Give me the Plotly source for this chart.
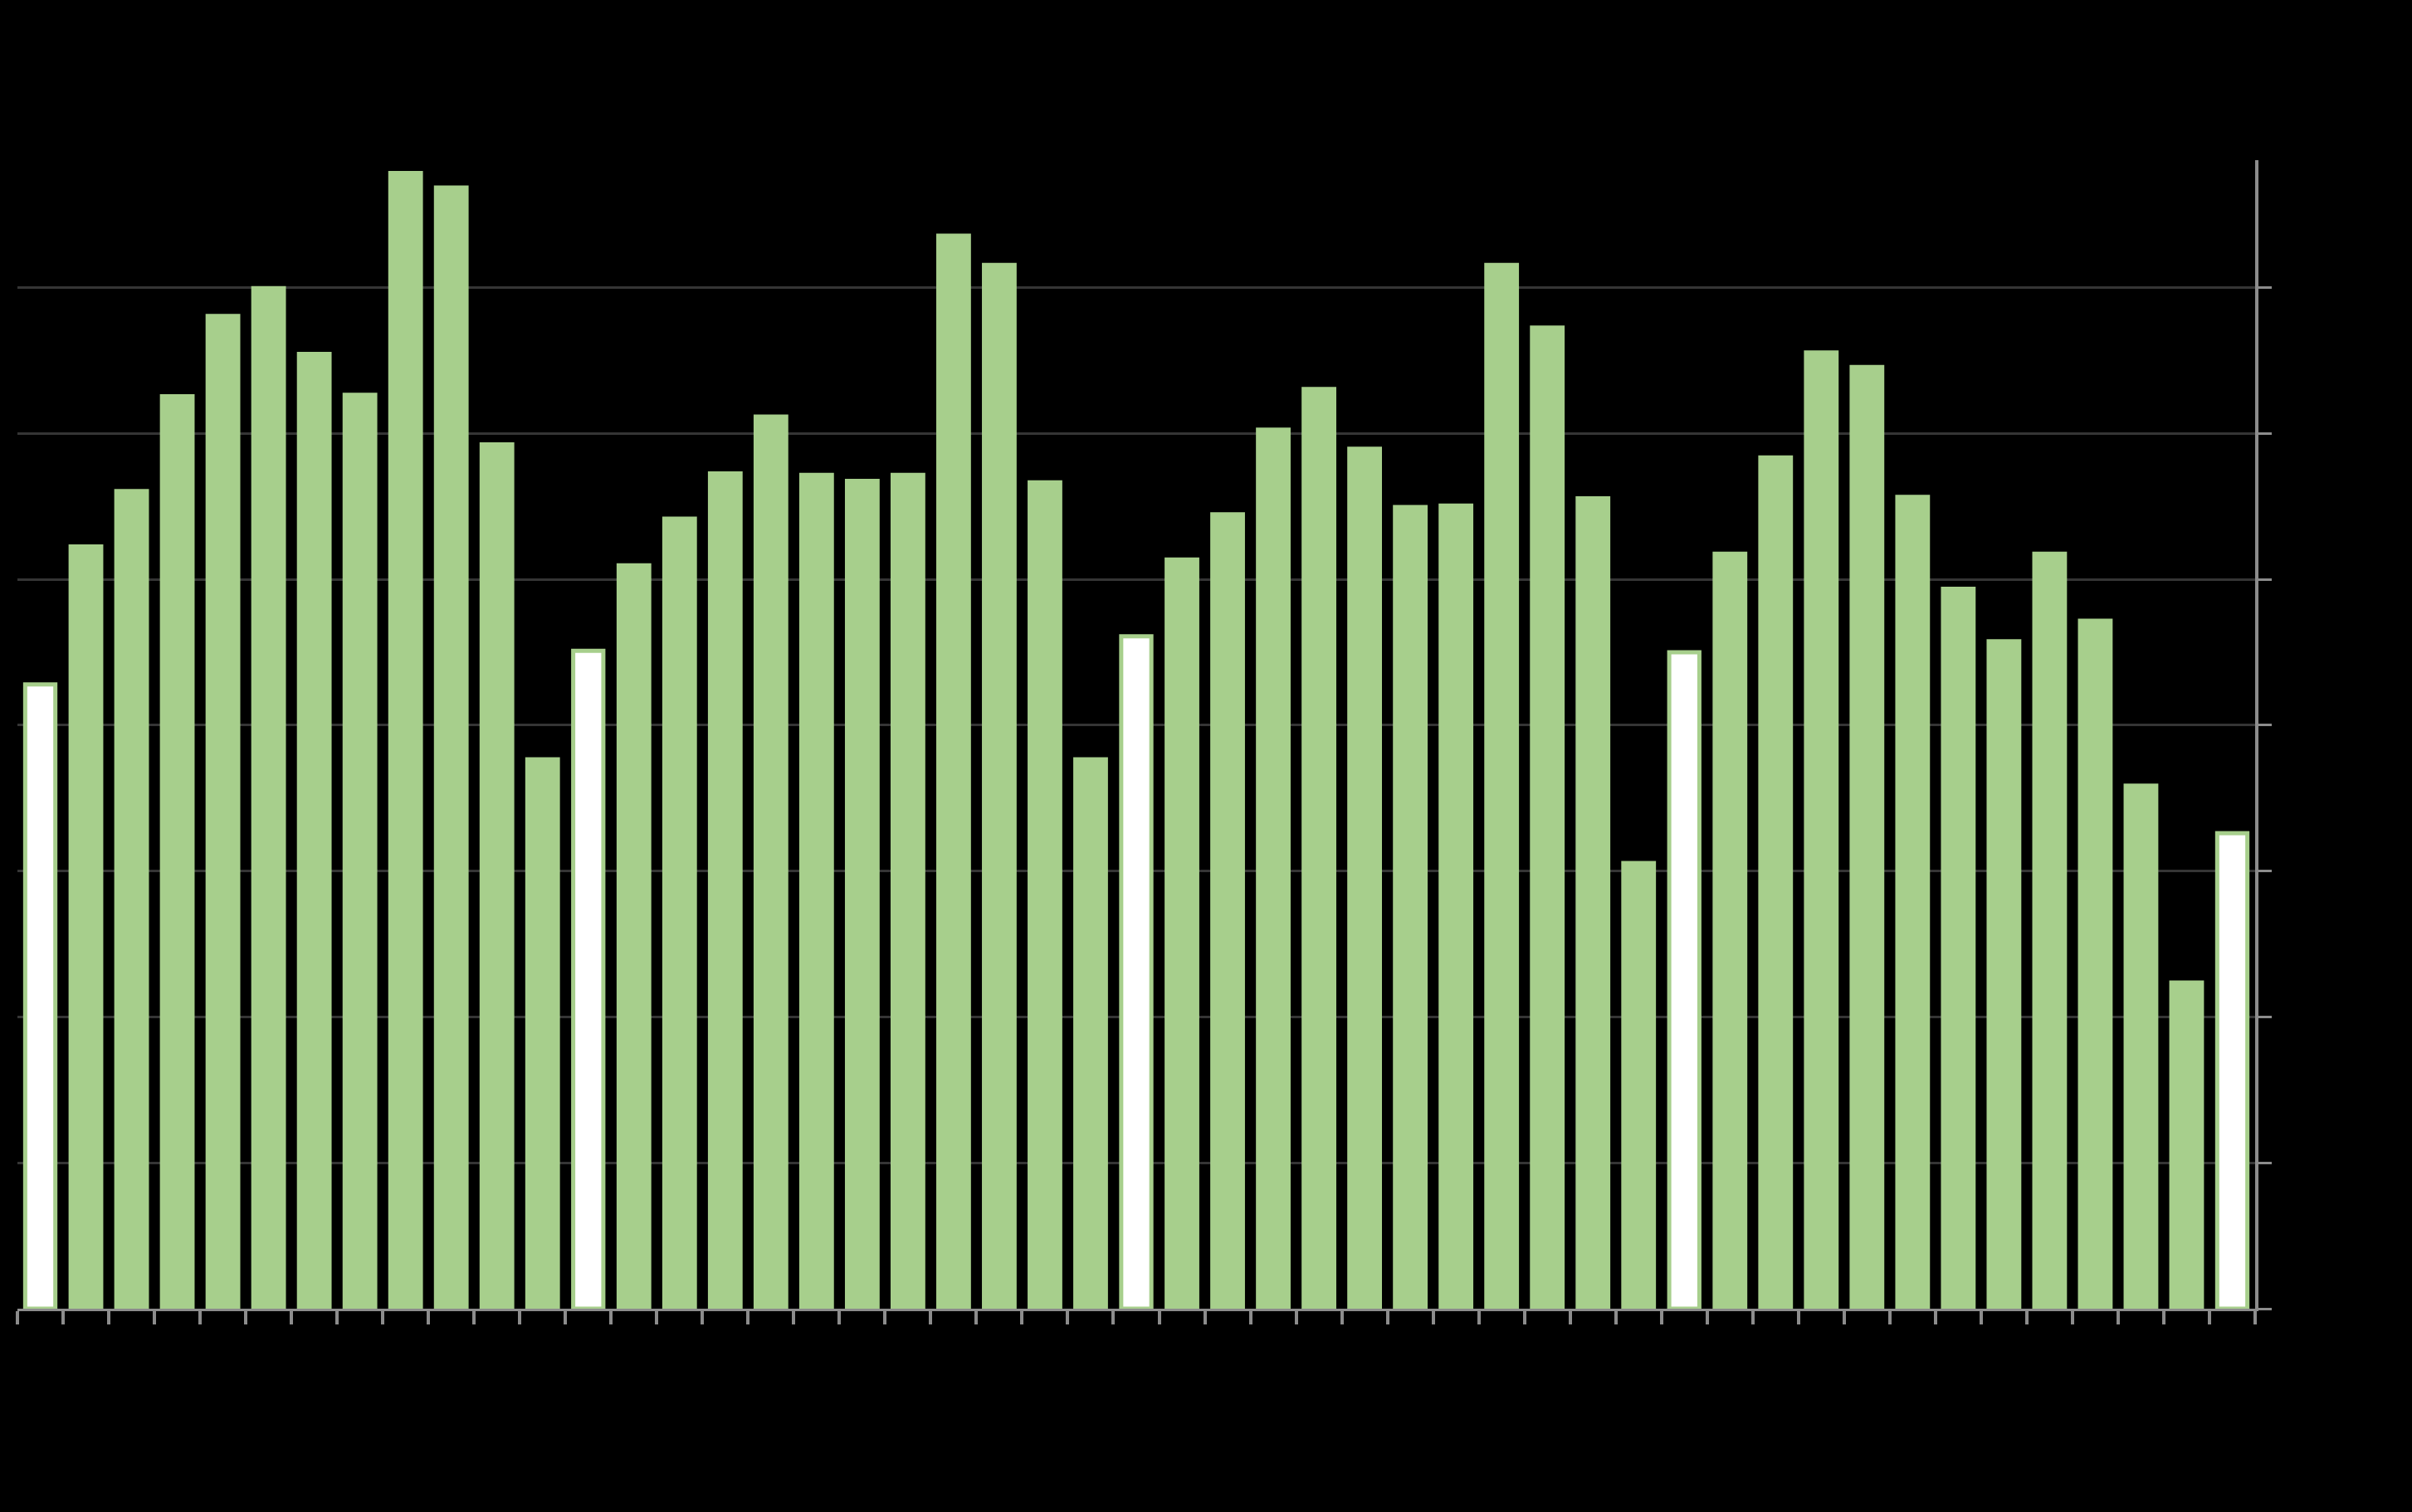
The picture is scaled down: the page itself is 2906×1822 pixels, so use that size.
import plotly.graph_objects as go

# ---- data -------------------------------------------------------------
MONTHS = ["Jan", "Feb", "Mar", "Apr", "May", "Jun",
          "Jul", "Aug", "Sep", "Oct", "Nov", "Dec"]
YEARS = ["Y1", "Y2", "Y3", "Y4", "Y5"]
categories = [f"{MONTHS[i % 12]} {YEARS[i // 12]}" for i in range(49)]

values = [
    4.28, 5.24, 5.62, 6.27, 6.82, 7.01, 6.56, 6.28, 7.80, 7.70, 5.94, 3.78,
    4.51, 5.11, 5.43, 5.74, 6.13, 5.73, 5.69, 5.73, 7.37, 7.17, 5.68, 3.78,
    4.61, 5.15, 5.46, 6.04, 6.32, 5.91, 5.51, 5.52, 7.17, 6.74, 5.57, 3.07,
    4.50, 5.19, 5.85, 6.57, 6.47, 5.58, 4.95, 4.59, 5.19, 4.73, 3.60, 2.25,
    3.26,
]

GREEN = "#A7CF8C"
WHITE = "#FFFFFF"

is_jan = [c.startswith("Jan") for c in categories]
fill_colors = [WHITE if j else GREEN for j in is_jan]
line_colors = [GREEN for _ in is_jan]
line_widths = [5 if j else 0 for j in is_jan]
bar_widths = [0.66 if j else 0.76 for j in is_jan]

fig = go.Figure(
    go.Bar(
        x=categories,
        y=values,
        width=bar_widths,
        marker=dict(color=fill_colors,
                    line=dict(color=line_colors, width=line_widths)),
        showlegend=False,
    )
)

fig.update_layout(
    width=2906,
    height=1822,
    paper_bgcolor="#000000",
    plot_bgcolor="#000000",
    margin=dict(l=21, r=189, t=193, b=245),
    showlegend=False,
)

fig.update_xaxes(
    type="category",
    showticklabels=False,
    showgrid=False,
    showline=True,
    linecolor="#8c8c8c",
    linewidth=3,
    ticks="outside",
    tickson="boundaries",
    ticklen=16,
    tickwidth=4,
    tickcolor="#8c8c8c",
)

fig.update_yaxes(
    side="right",
    range=[0, 7.874],
    dtick=1,
    tick0=0,
    showticklabels=False,
    showgrid=True,
    gridcolor="#353535",
    gridwidth=3,
    zeroline=False,
    showline=True,
    linecolor="#8c8c8c",
    linewidth=4,
    ticks="outside",
    ticklen=16,
    tickwidth=3,
    tickcolor="#8c8c8c",
)

fig.write_html(
    "out.html",
    config={"displayModeBar": False},
    post_script=(
        "document.body.style.margin='0';"
        "document.body.style.padding='0';"
        "document.body.style.background='#000';"
        "document.body.style.overflow='hidden';"
    ),
)
